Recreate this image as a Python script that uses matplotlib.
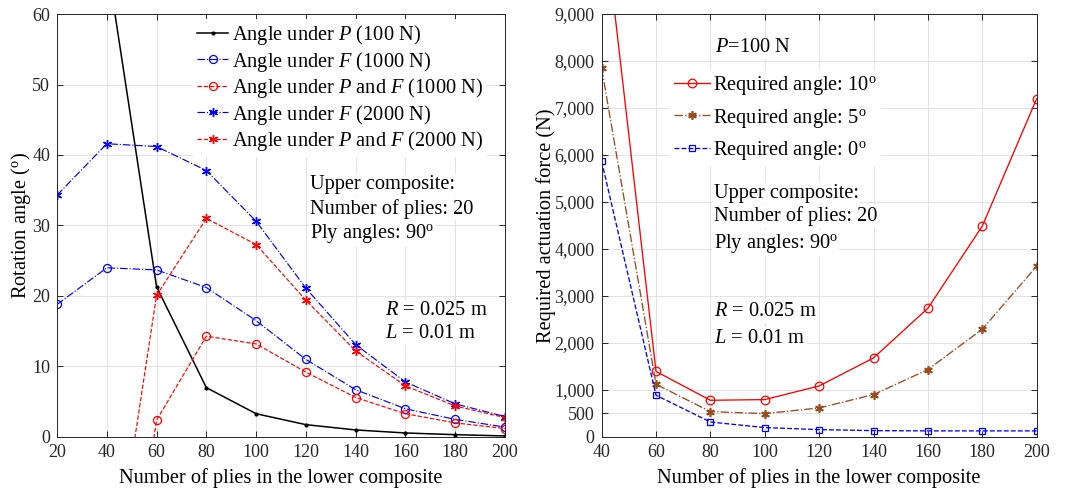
import matplotlib.pyplot as plt
from matplotlib.ticker import FuncFormatter

plt.rcParams["font.family"] = ["Liberation Serif", "DejaVu Serif"]
plt.rcParams["mathtext.fontset"] = "custom"
plt.rcParams["mathtext.rm"] = "Liberation Serif"
plt.rcParams["mathtext.it"] = "Liberation Serif:italic"
plt.rcParams["font.size"] = 14.7

# left panel: rotation angle vs. plies in lower composite
PLIES_L = [20, 40, 60, 80, 100, 120, 140, 160, 180, 200]
ANG_P100 = [150.0, 67.6, 21.3, 7.0, 3.3, 1.75, 1.0, 0.57, 0.33, 0.15]
ANG_F1000 = [18.8, 24.0, 23.7, 21.2, 16.5, 11.0, 6.7, 4.0, 2.5, 1.4]
ANG_F2000 = [34.3, 41.6, 41.2, 37.8, 30.6, 21.1, 13.1, 7.8, 4.7, 2.9]
PLIES_PF = [40, 60, 80, 100, 120, 140, 160, 180, 200]
ANG_PF1000 = [-44.0, 2.4, 14.3, 13.2, 9.2, 5.6, 3.3, 2.0, 1.2]
ANG_PF2000 = [-26.3, 20.1, 31.0, 27.3, 19.4, 12.2, 7.25, 4.4, 2.75]

# right panel: required actuation force
PLIES_R = [40, 60, 80, 100, 120, 140, 160, 180, 200]
FORCE_10 = [11450, 1395, 781, 796, 1086, 1682, 2740, 4486, 7196]
FORCE_5 = [7843, 1122, 540, 497, 618, 902, 1434, 2293, 3634]
FORCE_0 = [5863, 888, 319, 200, 157, 135, 130, 130, 130]

DEG = r"$^{\mathrm{o}}$"
GRID = "#e3e3e3"
BROWN = "#9a4a1c"
ASTER = (6, 2, 0)
LW = 0.85

fig = plt.figure(figsize=(10.7, 4.93), dpi=100)
ax1 = fig.add_axes([0.0533, 0.1136, 0.4187, 0.858])
ax2 = fig.add_axes([0.5623, 0.1136, 0.4065, 0.858])

ax1.plot(PLIES_L, ANG_P100, "-", color="k", lw=1.1, marker=".", ms=4,
         label=r"Angle under $P$ (100 N)")
ax1.plot(PLIES_L, ANG_F1000, "-.", color="blue", lw=LW, marker="o", ms=5.8,
         mfc="none", mew=0.9, label=r"Angle under $F$ (1000 N)")
ax1.plot(PLIES_PF, ANG_PF1000, "--", color="red", lw=LW, marker="o", ms=5.8,
         mfc="none", mew=0.9, label=r"Angle under $P$ and $F$ (1000 N)")
ax1.plot(PLIES_L, ANG_F2000, "-.", color="blue", lw=LW, marker=ASTER, ms=6.5,
         mew=1.0, label=r"Angle under $F$ (2000 N)")
ax1.plot(PLIES_PF, ANG_PF2000, "--", color="red", lw=LW, marker=ASTER, ms=6.5,
         mew=1.0, label=r"Angle under $P$ and $F$ (2000 N)")

ax1.set_xlim(20, 200)
ax1.set_ylim(0, 60)
ax1.set_xticks(range(20, 201, 20))
ax1.set_yticks(range(0, 61, 10))
ax1.set_xlabel("Number of plies in the lower composite", labelpad=5)
ax1.set_ylabel("Rotation angle (" + DEG + ")", labelpad=-1)
leg1 = ax1.legend(loc="upper left", bbox_to_anchor=(0.304, 0.988), frameon=True,
                  fancybox=False, edgecolor="none", framealpha=1,
                  handlelength=1.5, handletextpad=0.2, labelspacing=0.12,
                  borderpad=0.2, borderaxespad=0.0)
leg1.set_zorder(5)
box = dict(facecolor="white", edgecolor="none", pad=1.0)


def note(ax, x, y, s):
    ax.text(x, y, s, transform=ax.transAxes, va="center", ha="left",
            bbox=box, zorder=4)


note(ax1, 0.565, 0.596, "Upper composite:")
note(ax1, 0.565, 0.540, "Number of plies: 20")
note(ax1, 0.565, 0.480, "Ply angles: 90" + DEG)
note(ax1, 0.732, 0.299, "$R$ = 0.025 m")
note(ax1, 0.732, 0.244, "$L$ = 0.01 m")

ax2.plot(PLIES_R, FORCE_10, "-", color="red", lw=LW + 0.1, marker="o", ms=6.2,
         mfc="none", mew=0.9, label="Required angle: 10" + DEG)
ax2.plot(PLIES_R, FORCE_5, "-.", color=BROWN, lw=LW + 0.1, marker=ASTER, ms=6.2,
         mew=1.2, label="Required angle: 5" + DEG)
ax2.plot(PLIES_R, FORCE_0, "--", color="blue", lw=LW + 0.1, marker="s", ms=4.6,
         mfc="none", mew=0.9, label="Required angle: 0" + DEG)

ax2.set_xlim(40, 200)
ax2.set_ylim(0, 9000)
ax2.set_xticks(range(40, 201, 20))
ax2.set_yticks([0, 500] + list(range(1000, 9001, 1000)))
ax2.yaxis.set_major_formatter(FuncFormatter(lambda v, p: f"{int(v):,}"))
ax2.set_xlabel("Number of plies in the lower composite", labelpad=5)
ax2.set_ylabel("Required actuation force (N)", labelpad=-1)
leg2 = ax2.legend(loc="upper left", bbox_to_anchor=(0.157, 0.868), frameon=True,
                  fancybox=False, edgecolor="none", framealpha=1,
                  handlelength=1.75, handletextpad=0.15, labelspacing=0.47,
                  borderpad=0.2, borderaxespad=0.0)
leg2.set_zorder(5)
note(ax2, 0.260, 0.920, "$P$=100 N")
note(ax2, 0.258, 0.576, "Upper composite:")
note(ax2, 0.258, 0.522, "Number of plies: 20")
note(ax2, 0.258, 0.458, "Ply angles: 90" + DEG)
note(ax2, 0.258, 0.296, "$R$ = 0.025 m")
note(ax2, 0.258, 0.234, "$L$ = 0.01 m")

for ax in (ax1, ax2):
    ax.grid(True, color=GRID, lw=0.8)
    ax.set_axisbelow(True)
    ax.tick_params(direction="in", top=True, right=True, length=4,
                   width=0.7, colors="#262626", labelsize=13, pad=5)
    for s in ax.spines.values():
        s.set_color("#262626")
        s.set_linewidth(0.7)

fig.savefig("out.png", dpi=100)
